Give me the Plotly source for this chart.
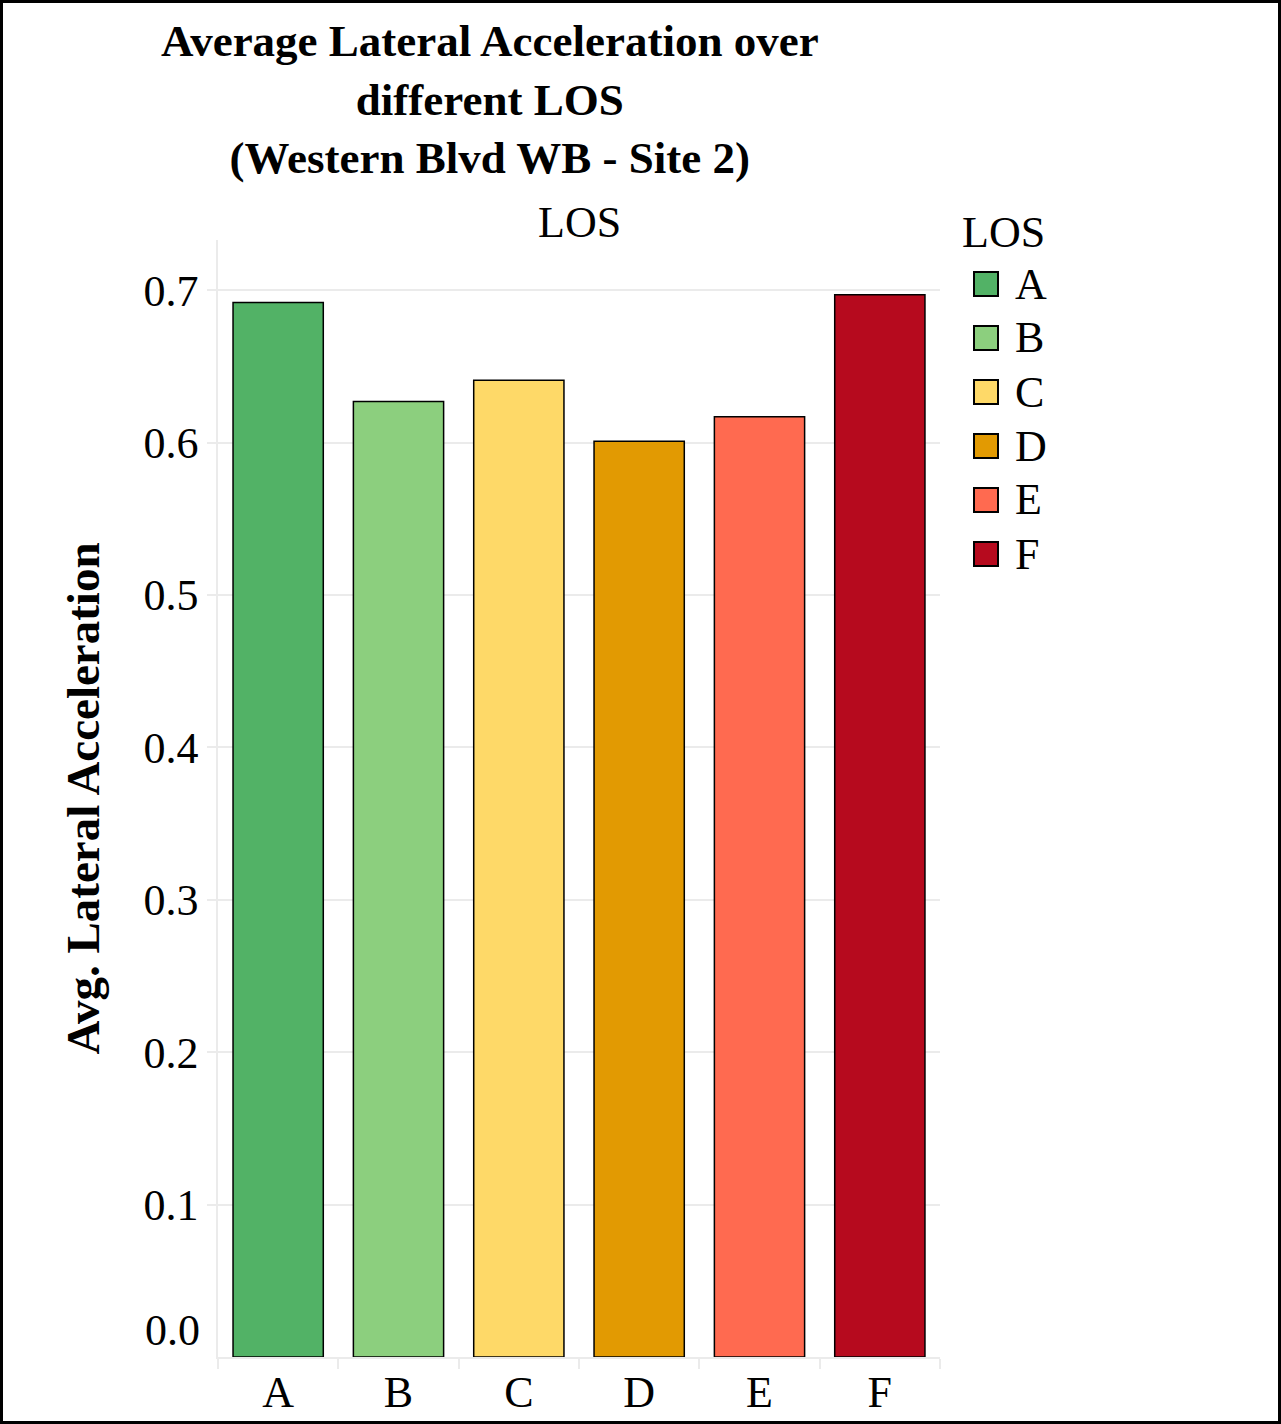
import plotly.graph_objects as go

# Average lateral acceleration by level of service
los = ["A", "B", "C", "D", "E", "F"]
avg_lat_acc = [0.692, 0.627, 0.641, 0.601, 0.617, 0.697]
bar_colors = ["#52B266", "#8CCF7E", "#FED968", "#E29A02", "#FF6A50", "#B60A1E"]
y_ticks = [0.1, 0.2, 0.3, 0.4, 0.5, 0.6, 0.7]

W, H = 1281, 1424
L, R, T, B = 218, 341, 240, 67
PW, PH = W - L - R, H - T - B


def px_x(px):
    return (px - L) / PW


def px_y(py):
    return (H - B - py) / PH


SERIF = "Liberation Serif, Times New Roman, serif"
GRID = "#EBEBEB"

fig = go.Figure()
fig.add_trace(go.Bar(
    x=los,
    y=avg_lat_acc,
    marker=dict(color=bar_colors, line=dict(color="black", width=1.5)),
    showlegend=False,
))

shapes = [
    # outer frame
    dict(type="rect", xref="paper", yref="paper",
         x0=px_x(1.5), x1=px_x(W - 1.5), y0=px_y(H - 1.5), y1=px_y(1.5),
         line=dict(color="black", width=3), fillcolor="rgba(0,0,0,0)", layer="above"),
]
annotations = [
    dict(text="<b>Average Lateral Acceleration over<br>different LOS<br>(Western Blvd WB - Site 2)</b>",
         xref="paper", yref="paper", x=px_x(490), y=px_y(100),
         xanchor="center", yanchor="middle", showarrow=False,
         font=dict(family=SERIF, size=45, color="black")),
    dict(text="LOS", xref="paper", yref="paper", x=0.5, y=px_y(222),
         xanchor="center", yanchor="middle", showarrow=False,
         font=dict(family=SERIF, size=44, color="black")),
    dict(text="<b>Avg. Lateral Acceleration</b>", xref="paper", yref="paper",
         x=px_x(82), y=0.5, textangle=-90, xanchor="center", yanchor="middle",
         showarrow=False, font=dict(family=SERIF, size=47, color="black")),
    dict(text="0.0", xref="paper", yref="y", x=px_x(202), y=0, yshift=27,
         xanchor="right", yanchor="middle", showarrow=False,
         font=dict(family=SERIF, size=44, color="black")),
    dict(text="LOS", xref="paper", yref="paper", x=px_x(960), y=px_y(232),
         xanchor="left", yanchor="middle", showarrow=False,
         font=dict(family=SERIF, size=44, color="black")),
]

# legend: swatches and labels
for i, (name, col) in enumerate(zip(los, bar_colors)):
    cy = 284 + 54 * i
    shapes.append(dict(type="rect", xref="paper", yref="paper",
                       x0=px_x(974), x1=px_x(998), y0=px_y(cy + 12), y1=px_y(cy - 12),
                       fillcolor=col, line=dict(color="black", width=2)))
    annotations.append(dict(text=name, xref="paper", yref="paper",
                            x=px_x(1013), y=px_y(cy), xanchor="left", yanchor="middle",
                            showarrow=False,
                            font=dict(family=SERIF, size=44, color="black")))

fig.update_layout(
    width=W, height=H,
    margin=dict(l=L, r=R, t=T, b=B, autoexpand=False),
    paper_bgcolor="white", plot_bgcolor="white",
    bargap=0.25,
    font=dict(family=SERIF, size=44, color="black"),
    shapes=shapes,
    annotations=annotations,
)
fig.update_xaxes(
    type="category", tickson="boundaries", ticks="outside", ticklen=10,
    tickcolor=GRID, tickwidth=1.5, showline=True, linecolor=GRID, linewidth=1.5,
    showgrid=False, zeroline=False, ticklabelstandoff=-5,
    tickfont=dict(family=SERIF, size=44, color="black"),
)
fig.update_yaxes(
    range=[0, 0.733], tickvals=y_ticks, ticktext=[f"{v:.1f}" for v in y_ticks],
    ticks="outside", ticklen=9, tickcolor=GRID, tickwidth=1.5,
    showline=True, linecolor=GRID, linewidth=1.5,
    showgrid=True, gridcolor=GRID, gridwidth=1.5, zeroline=False,
    tickfont=dict(family=SERIF, size=44, color="black"),
)

fig.write_html("out.html")
